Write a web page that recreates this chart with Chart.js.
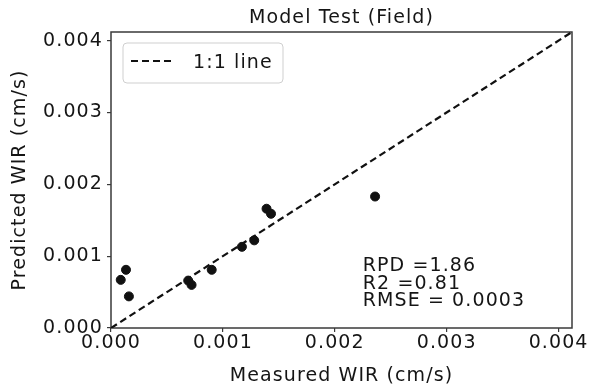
<!DOCTYPE html>
<html><head><meta charset="utf-8">
<script src="https://cdn.jsdelivr.net/npm/chart.js@4"></script>
<style>html,body{margin:0;padding:0;background:#fff}</style>
</head><body>
<canvas id="c" width="590" height="390" style="width:590px;height:390px;display:block"></canvas>
<script>
// ---- data ----
const chartTitle = "Model Test (Field)";
const xAxisTitle = "Measured WIR (cm/s)";
const yAxisTitle = "Predicted WIR (cm/s)";
const measured  = [0.000087, 0.000134, 0.00016, 0.00069, 0.00072, 0.00090, 0.00117, 0.00128, 0.00139, 0.00143, 0.00236];
const predicted = [0.00067, 0.00081, 0.00044, 0.00066, 0.00060, 0.00081, 0.00113, 0.00122, 0.00166, 0.00159, 0.00183];
const lineLabel = "1:1 line";
const lineEnds = [0, 0.00412];
const tickValues = [0, 0.001, 0.002, 0.003, 0.004];
const statsLines = ["RPD =1.86", "R2 =0.81", "RMSE = 0.0003"];

// ---- style ----
const FONT = "'DejaVu Sans', sans-serif";
const TXT = '#151515';
const AX = '#3a3a3a';
const LS = '1.1px';
const FS = 19;

const spacingPlugin = {
  id: 'spacing',
  beforeUpdate(chart){ chart.ctx.letterSpacing = LS; },
  beforeLayout(chart){ chart.ctx.letterSpacing = LS; },
  beforeDraw(chart){ chart.ctx.letterSpacing = LS; }
};

const decorPlugin = {
  id: 'decor',
  beforeDatasetsDraw(chart){
    const {ctx, chartArea:a} = chart;
    ctx.save();
    ctx.strokeStyle = AX; ctx.lineWidth = 1.5;
    ctx.strokeRect(a.left, a.top, a.right - a.left, a.bottom - a.top);
    ctx.restore();
  },
  afterDraw(chart){
    const {ctx, chartArea:a, scales} = chart;
    ctx.save();
    ctx.letterSpacing = LS;
    // title
    ctx.fillStyle = TXT;
    ctx.font = FS + "px " + FONT;
    ctx.textAlign = 'center'; ctx.textBaseline = 'middle';
    ctx.fillText(chartTitle, (a.left + a.right) / 2, 18);
    // legend
    const lx = a.left + 12, ly = a.top + 11, lw = 160, lh = 40, r = 4;
    ctx.beginPath();
    ctx.moveTo(lx + r, ly); ctx.lineTo(lx + lw - r, ly); ctx.quadraticCurveTo(lx + lw, ly, lx + lw, ly + r);
    ctx.lineTo(lx + lw, ly + lh - r); ctx.quadraticCurveTo(lx + lw, ly + lh, lx + lw - r, ly + lh);
    ctx.lineTo(lx + r, ly + lh); ctx.quadraticCurveTo(lx, ly + lh, lx, ly + lh - r);
    ctx.lineTo(lx, ly + r); ctx.quadraticCurveTo(lx, ly, lx + r, ly);
    ctx.closePath();
    ctx.fillStyle = 'rgba(255,255,255,0.85)'; ctx.fill();
    ctx.strokeStyle = '#cfcfcf'; ctx.lineWidth = 1; ctx.stroke();
    ctx.beginPath(); ctx.setLineDash([7,4]); ctx.lineWidth = 2.2; ctx.strokeStyle = '#111';
    ctx.moveTo(lx + 8, ly + 18); ctx.lineTo(lx + 50, ly + 18); ctx.stroke();
    ctx.setLineDash([]);
    ctx.fillStyle = TXT; ctx.font = FS + "px " + FONT; ctx.textAlign = 'left'; ctx.textBaseline = 'middle';
    ctx.fillText(lineLabel, lx + 70, ly + 20);
    // stats
    const sx = scales.x.getPixelForValue(0.00225);
    const sy = scales.y.getPixelForValue(0.00086);
    statsLines.forEach((t, i) => ctx.fillText(t, sx, sy + i * 17.5));
    ctx.restore();
  }
};

const tickCb = v => Number(v).toFixed(3);

new Chart(document.getElementById('c'), {
  type: 'scatter',
  data: {
    datasets: [
      {
        type: 'line', label: lineLabel,
        data: lineEnds.map(v => ({x: v, y: v})),
        borderColor: '#111', borderWidth: 2.2, borderDash: [7,4],
        pointRadius: 0, fill: false, order: 2
      },
      {
        label: 'points',
        data: measured.map((m, i) => ({x: m, y: predicted[i]})),
        backgroundColor: '#111', borderColor: '#111',
        pointRadius: 4.5, pointHoverRadius: 4.5, order: 1
      }
    ]
  },
  options: {
    responsive: false, animation: false, devicePixelRatio: 1,
    layout: { padding: { left: 0, top: 32, right: 18, bottom: 0 } },
    plugins: { legend: { display: false }, title: { display: false }, tooltip: { enabled: false } },
    scales: {
      x: {
        type: 'linear', min: lineEnds[0], max: lineEnds[1],
        afterFit(s){ s.height = 62; },
        afterBuildTicks(s){ s.ticks = tickValues.map(v => ({value: v})); },
        grid: { drawOnChartArea: false, drawTicks: true, tickLength: 4, color: AX, lineWidth: 1.2 },
        border: { display: false },
        ticks: { callback: tickCb, color: TXT, font: { family: FONT, size: FS }, padding: 0, maxRotation: 0 },
        title: { display: true, text: xAxisTitle, color: TXT, font: { family: FONT, size: FS }, padding: { top: 0, bottom: 3 } }
      },
      y: {
        type: 'linear', min: lineEnds[0], max: lineEnds[1],
        afterFit(s){ s.width = 111; },
        afterBuildTicks(s){ s.ticks = tickValues.map(v => ({value: v})); },
        grid: { drawOnChartArea: false, drawTicks: true, tickLength: 4, color: AX, lineWidth: 1.2 },
        border: { display: false },
        ticks: { callback: tickCb, color: TXT, font: { family: FONT, size: FS }, padding: 4 },
        title: { display: true, text: yAxisTitle, color: TXT, font: { family: FONT, size: FS }, padding: { top: 9, bottom: 0 } }
      }
    }
  },
  plugins: [spacingPlugin, decorPlugin]
});
</script>
</body></html>
